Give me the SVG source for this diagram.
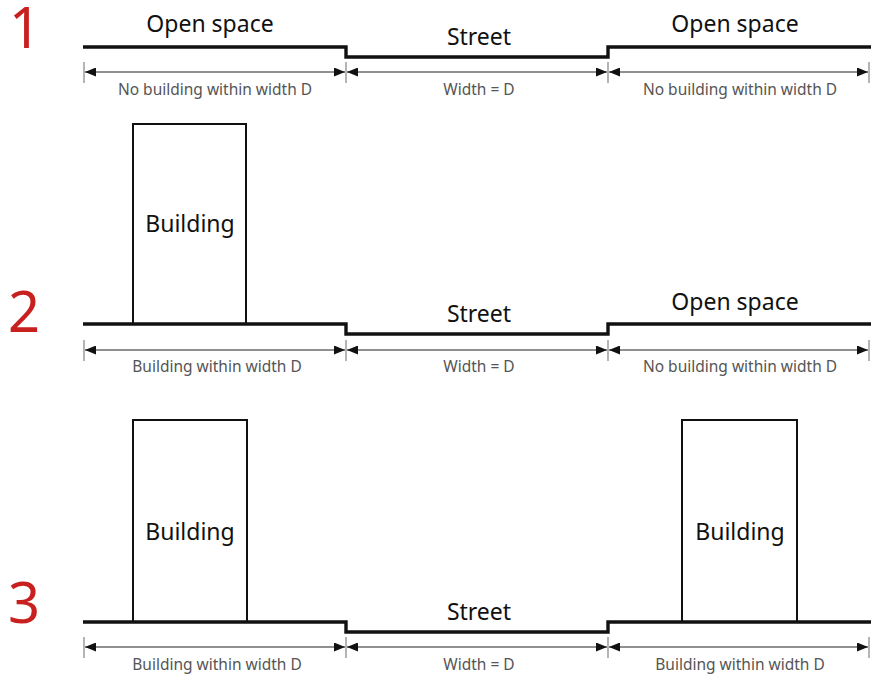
<svg xmlns="http://www.w3.org/2000/svg" width="874" height="678" viewBox="0 0 874 678">
  <defs>
    <marker id="arrow" viewBox="0 0 11 9" refX="11" refY="4.5" markerWidth="11" markerHeight="9" markerUnits="userSpaceOnUse" orient="auto-start-reverse">
      <path d="M0,0 L11,4.5 L0,9 Z" fill="#111"/>
    </marker>
    <style>
      .ground { fill: none; stroke: #111; stroke-width: 3.4; stroke-linejoin: miter; }
      .bldg { fill: #fff; stroke: #111; stroke-width: 2; }
      .dim { stroke: #222; stroke-width: 1.1; fill: none; marker-start: url(#arrow); marker-end: url(#arrow); }
      .tick { stroke: #777; stroke-width: 1.1; }
      .num { font-family: "Noto Sans", "Open Sans", "Liberation Sans", sans-serif; font-size: 56px; fill: #c8201f; }
      .lbl { font-family: "Noto Sans", "Open Sans", "Liberation Sans", sans-serif; font-size: 23px; fill: #111; text-anchor: middle; }
      .dlbl { font-family: "Noto Sans", "Open Sans", "Liberation Sans", sans-serif; font-size: 15.5px; fill: #555; text-anchor: middle; }
    </style>
  </defs>

  <!-- Case 1: open space on both sides -->
  <g id="case1">
    <text class="num" x="9" y="48">1</text>
    <g id="case1-ground">
      <path class="ground" d="M83,47 H346 V57 H608 V47 H871"/>
    </g>
    <text class="lbl" x="210" y="32">Open space</text>
    <text class="lbl" x="479" y="45">Street</text>
    <text class="lbl" x="735" y="32">Open space</text>
    <g id="case1-dims">
      <line class="tick" x1="84" y1="62" x2="84" y2="83"/>
      <line class="tick" x1="346" y1="62" x2="346" y2="83"/>
      <line class="tick" x1="608" y1="62" x2="608" y2="83"/>
      <line class="tick" x1="869" y1="62" x2="869" y2="83"/>
      <line class="dim" x1="85" y1="72" x2="345" y2="72"/>
      <line class="dim" x1="347" y1="72" x2="607" y2="72"/>
      <line class="dim" x1="609" y1="72" x2="868" y2="72"/>
    </g>
    <text class="dlbl" x="215" y="95">No building within width D</text>
    <text class="dlbl" x="479" y="95">Width = D</text>
    <text class="dlbl" x="740" y="95">No building within width D</text>
  </g>

  <!-- Case 2: building on one side -->
  <g id="case2">
    <text class="num" x="8" y="332">2</text>
    <g id="case2-building-left">
      <rect class="bldg" x="133" y="124" width="113" height="200"/>
      <text class="lbl" x="190" y="232">Building</text>
    </g>
    <g id="case2-ground">
      <path class="ground" d="M83,324 H346 V334 H608 V324 H871"/>
    </g>
    <text class="lbl" x="479" y="322">Street</text>
    <text class="lbl" x="735" y="310">Open space</text>
    <g id="case2-dims">
      <line class="tick" x1="84" y1="340" x2="84" y2="361"/>
      <line class="tick" x1="346" y1="340" x2="346" y2="361"/>
      <line class="tick" x1="608" y1="340" x2="608" y2="361"/>
      <line class="tick" x1="869" y1="340" x2="869" y2="361"/>
      <line class="dim" x1="85" y1="350" x2="345" y2="350"/>
      <line class="dim" x1="347" y1="350" x2="607" y2="350"/>
      <line class="dim" x1="609" y1="350" x2="868" y2="350"/>
    </g>
    <text class="dlbl" x="217" y="372">Building within width D</text>
    <text class="dlbl" x="479" y="372">Width = D</text>
    <text class="dlbl" x="740" y="372">No building within width D</text>
  </g>

  <!-- Case 3: buildings on both sides -->
  <g id="case3">
    <text class="num" x="8" y="623">3</text>
    <g id="case3-building-left">
      <rect class="bldg" x="133" y="420" width="114" height="202"/>
      <text class="lbl" x="190" y="540">Building</text>
    </g>
    <g id="case3-building-right">
      <rect class="bldg" x="682" y="420" width="115" height="202"/>
      <text class="lbl" x="740" y="540">Building</text>
    </g>
    <g id="case3-ground">
      <path class="ground" d="M83,622 H346 V632 H608 V622 H871"/>
    </g>
    <text class="lbl" x="479" y="620">Street</text>
    <g id="case3-dims">
      <line class="tick" x1="84" y1="637" x2="84" y2="658"/>
      <line class="tick" x1="346" y1="637" x2="346" y2="658"/>
      <line class="tick" x1="608" y1="637" x2="608" y2="658"/>
      <line class="tick" x1="869" y1="637" x2="869" y2="658"/>
      <line class="dim" x1="85" y1="647" x2="345" y2="647"/>
      <line class="dim" x1="347" y1="647" x2="607" y2="647"/>
      <line class="dim" x1="609" y1="647" x2="868" y2="647"/>
    </g>
    <text class="dlbl" x="217" y="670">Building within width D</text>
    <text class="dlbl" x="479" y="670">Width = D</text>
    <text class="dlbl" x="740" y="670">Building within width D</text>
  </g>
</svg>
